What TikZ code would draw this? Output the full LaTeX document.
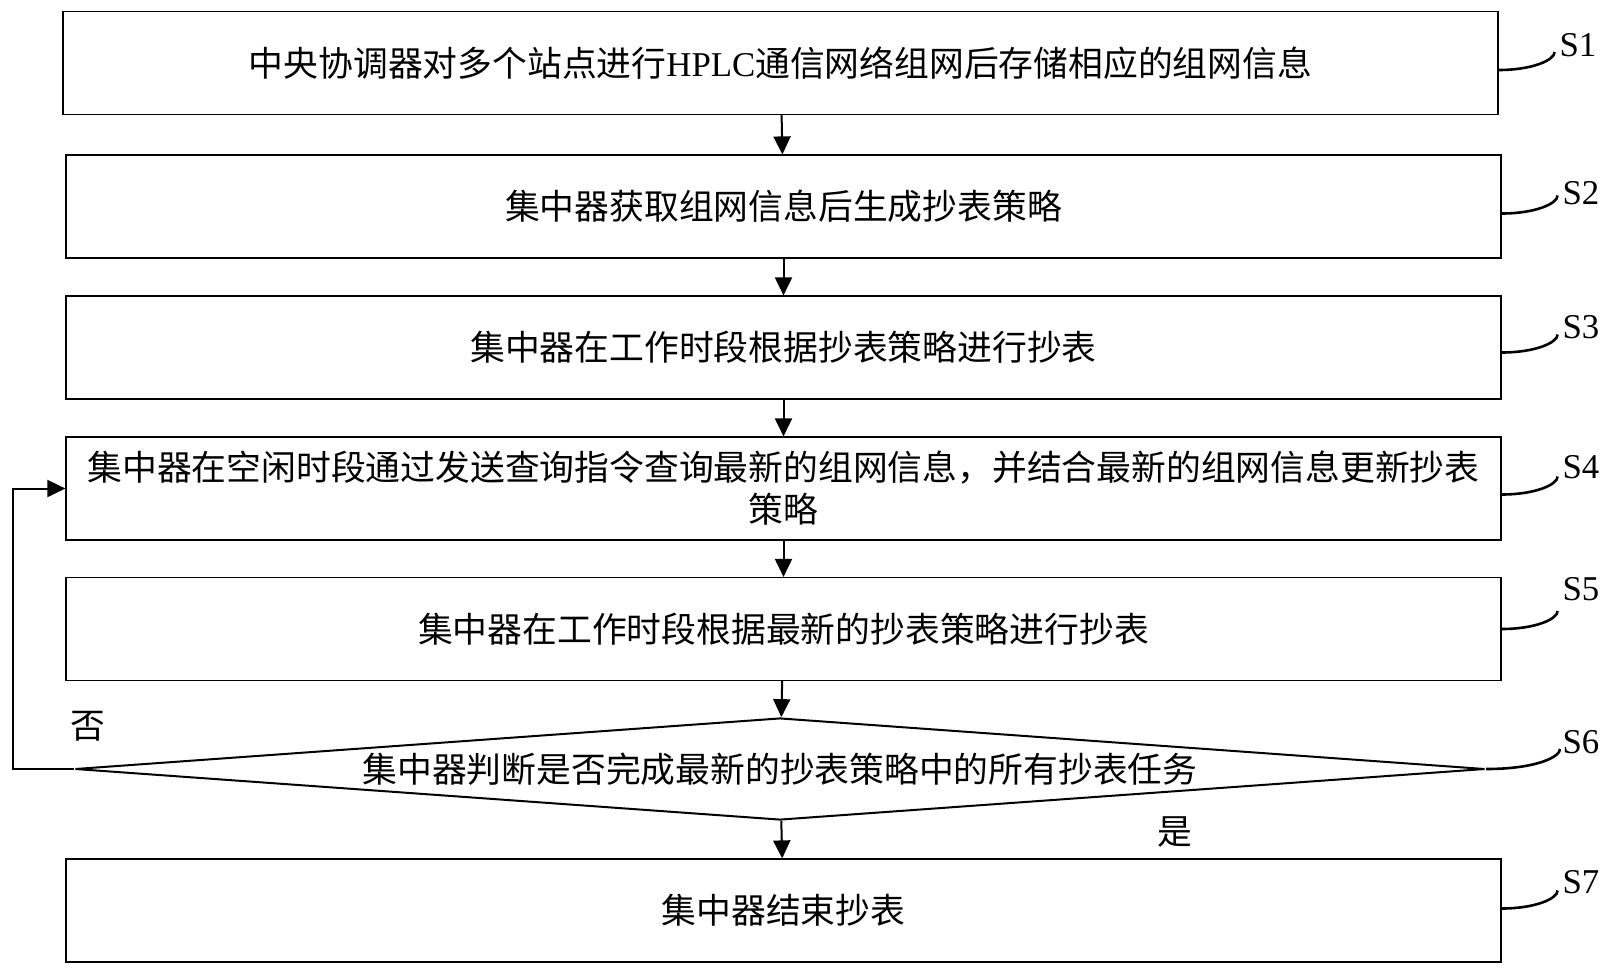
\documentclass[tikz,border=0pt]{standalone}
\usepackage{fontspec}
\setmainfont{Liberation Serif}
\newfontfamily\cjk{Noto Sans CJK SC}
\usetikzlibrary{shapes.geometric,arrows.meta}

\begin{document}
\begin{tikzpicture}[x=0.5pt,y=-0.5pt,
		stepbox/.style={draw, line width=0.6pt, minimum width=717.5pt, minimum height=51.5pt, inner sep=0pt, align=center, font=\cjk\fontsize{17.4}{21}\selectfont},
		decide/.style={diamond, draw, line width=1pt, aspect=14, minimum width=705pt, minimum height=51pt, inner sep=0pt, font=\cjk\fontsize{17.4}{21}\selectfont},
		flow/.style={-{Triangle[length=9pt,width=8.5pt]}, line width=1pt},
		lead/.style={line width=1.3pt},
		tag/.style={font=\fontsize{17.4}{21}\selectfont, inner sep=0pt},
		word/.style={font=\cjk\fontsize{17.4}{21}\selectfont, inner sep=0pt}]
			\useasboundingbox (0,0) rectangle (1608,976);

			\node (s1)[stepbox] at (780.5,63) {中央协调器对多个站点进行{\rmfamily HPLC}通信网络组网后存储相应的组网信息};
			\node (s2)[stepbox] at (783.5,206.5) {集中器获取组网信息后生成抄表策略};
			\node (s3)[stepbox] at (783.5,347.5) {集中器在工作时段根据抄表策略进行抄表};
			\node (s4)[stepbox] at (783.5,488.5) {集中器在空闲时段通过发送查询指令查询最新的组网信息，并结合最新的组网信息更新抄表\\策略};
			\node (s5)[stepbox] at (783.5,629) {集中器在工作时段根据最新的抄表策略进行抄表};
			\node (s6)[decide] at (780,769) {集中器判断是否完成最新的抄表策略中的所有抄表任务};
			\node (s7)[stepbox] at (783.5,910.5) {集中器结束抄表};

			\draw [flow](s1) -- (s2);
			\draw [flow](s2) -- (s3);
			\draw [flow](s3) -- (s4);
			\draw [flow](s4) -- (s5);
			\draw [flow](s5) -- (s6);
			\draw [flow](s6) -- (s7);

			% loop back when not finished
			\coordinate (back) at (13,769);
			\draw [flow](s6.west) -- (back) |- (s4.west);
			\node (no)[word] at (88,726) {否};
			\node (yes)[word] at (1175,832) {是};

			% step tags
			\node (t1)[tag] at (1578,45) {S1};
			\node (t2)[tag] at (1581,193) {S2};
			\node (t3)[tag] at (1581,327) {S3};
			\node (t4)[tag] at (1581,467) {S4};
			\node (t5)[tag] at (1581,589) {S5};
			\node (t6)[tag] at (1581,742) {S6};
			\node (t7)[tag] at (1581,882) {S7};
			\draw [lead](s1.east) ++(0pt,-3.5pt) .. controls +(17pt,0pt) and +(0pt,-4pt) .. ++(28pt,9pt);
			\draw [lead](s2.east) ++(0pt,-3.5pt) .. controls +(17pt,0pt) and +(0pt,-4pt) .. ++(28pt,9pt);
			\draw [lead](s3.east) ++(0pt,-2.5pt) .. controls +(17pt,0pt) and +(0pt,-4pt) .. ++(28pt,9pt);
			\draw [lead](s4.east) ++(0pt,-3pt) .. controls +(17pt,0pt) and +(0pt,-4pt) .. ++(28pt,9pt);
			\draw [lead](s5.east) .. controls +(17pt,0pt) and +(0pt,-4pt) .. ++(28pt,9pt);
			\draw [lead](s6.east) .. controls +(25pt,0pt) and +(0pt,-4pt) .. ++(37pt,10pt);
			\draw [lead](s7.east) ++(0pt,1pt) .. controls +(17pt,0pt) and +(0pt,-4pt) .. ++(28pt,9pt);
		\end{tikzpicture}
\end{document}
